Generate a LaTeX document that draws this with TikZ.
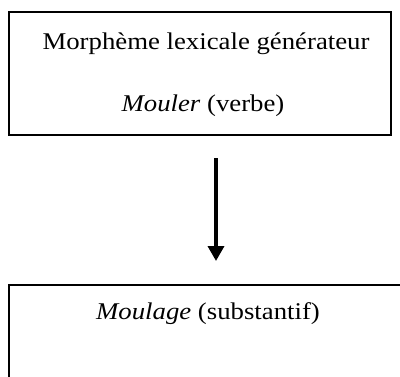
\documentclass[tikz,border=0pt]{standalone}
\usepackage{fontspec}
\setmainfont{Liberation Serif}
\usetikzlibrary{arrows.meta}
\begin{document}
\begin{tikzpicture}[x=1pt,y=-1pt,
  box/.style={draw=black,line width=1.5pt},
  lbl/.style={anchor=base,inner sep=0pt,xscale=1.115,transform shape,font=\fontsize{24}{28}\selectfont},
  conn/.style={line width=3.5pt,-{Triangle[width=16pt,length=15pt]}}]
\useasboundingbox (0,0) rectangle (400,376);
\begin{scope}
\clip (0,0) rectangle (400,376);
\draw[box] (9,12) rectangle (391,135);
\draw[box] (9,285) rectangle (420,400);
\end{scope}
\node[lbl] (t1) at (206,49) {Morphème lexicale générateur};
\node[lbl] (t2) at (203,111) {\textit{Mouler} (verbe)};
\node[lbl] (t3) at (208,319.5) {\textit{Moulage} (substantif)};
\coordinate (a0) at (216,158);
\coordinate (a1) at (216,261);
\draw[conn] (a0) -- (a1);
\end{tikzpicture}
\end{document}
